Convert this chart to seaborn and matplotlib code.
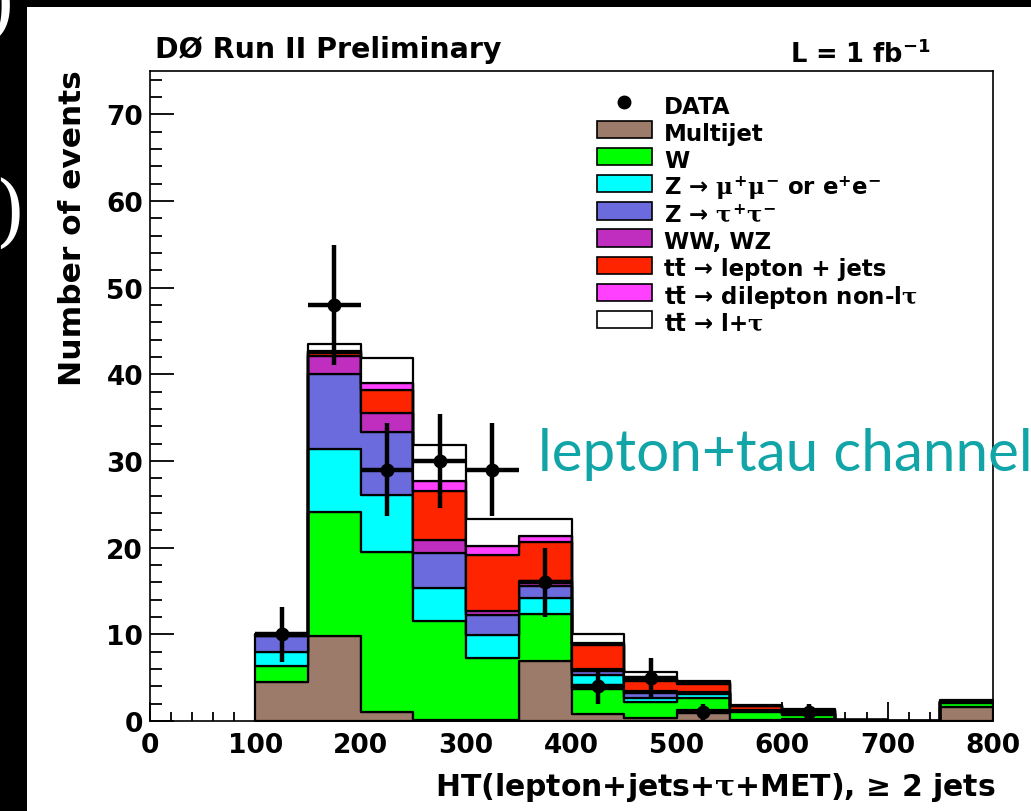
import numpy as np
import pandas as pd
import matplotlib
matplotlib.use("Agg")
import matplotlib.pyplot as plt
from matplotlib.patches import Rectangle
from matplotlib.lines import Line2D
from matplotlib.ticker import MultipleLocator
import seaborn as sns

# ---- HT histogram contents (events per 50 GeV bin) ----
bin_edges = np.arange(100, 801, 50)
bin_centers = bin_edges[:-1] + 25

multijet = [4.45, 9.8, 1.0, 0.1, 0.1, 6.9, 0.8, 0.4, 1.3, 0.1, 0.2, 0.03, 0.0, 1.6]
w_jets   = [1.85, 14.3, 18.55, 11.4, 7.2, 5.5, 2.9, 1.8, 1.4, 0.95, 0.5, 0.03, 0.0, 0.5]
z_ll     = [1.65, 7.3, 6.55, 3.9, 2.6, 1.8, 1.6, 0.5, 0.4, 0.15, 0.1, 0.01, 0.0, 0.05]
z_tautau = [1.85, 8.6, 7.3, 4.0, 2.3, 1.35, 0.5, 0.5, 0.1, 0.05, 0.05, 0.01, 0.0, 0.05]
ww_wz    = [0.05, 2.1, 2.1, 1.5, 0.5, 0.65, 0.2, 0.3, 0.1, 0.05, 0.05, 0.0, 0.0, 0.0]
tt_ljets = [0.1, 0.4, 2.7, 5.6, 6.5, 4.5, 2.8, 1.15, 1.0, 0.4, 0.3, 0.02, 0.0, 0.05]
tt_dilep = [0.02, 0.2, 0.8, 1.2, 1.0, 0.7, 0.2, 0.35, 0.1, 0.05, 0.05, 0.0, 0.0, 0.0]
tt_ltau  = [0.1, 0.8, 2.9, 4.2, 3.1, 1.9, 1.0, 0.7, 0.25, 0.15, 0.1, 0.02, 0.0, 0.15]
data_counts = [10, 48, 29, 30, 29, 16, 4, 5, 1, 0, 1, 0, 0, 0]

# stacking order, bottom first
process_names = ["Multijet", "W", "Zll", "Ztautau", "WWWZ", "tt_ljets", "tt_dilep", "tt_ltau"]
process_values = [multijet, w_jets, z_ll, z_tautau, ww_wz, tt_ljets, tt_dilep, tt_ltau]
process_colors = ["#9c7b6b", "#00ff00", "#00ffff", "#6b6bdd", "#c02ec0", "#ff2400", "#ff40ff", "#ffffff"]
TTBAR = "tt\u0304"
legend_labels = [
    "Multijet",
    "W",
    r"Z → $\mu^{+}\mu^{-}$ or e$^{+}$e$^{-}$",
    r"Z → $\tau^{+}\tau^{-}$",
    "WW, WZ",
    TTBAR + " → lepton + jets",
    TTBAR + r" → dilepton non-l$\tau$",
    TTBAR + r" → l+$\tau$",
]

W_PX, H_PX = 1031, 812


def fx(x):
    return x / W_PX


def fy(y):
    return 1 - y / H_PX


sns.set_theme(style="ticks")
plt.rcParams["font.family"] = ["DejaVu Sans"]
plt.rcParams["font.weight"] = "bold"
plt.rcParams["text.color"] = "black"
plt.rcParams["axes.labelcolor"] = "black"
plt.rcParams["xtick.color"] = "black"
plt.rcParams["ytick.color"] = "black"
plt.rcParams["mathtext.fontset"] = "custom"
plt.rcParams["mathtext.rm"] = "DejaVu Sans:bold"
plt.rcParams["mathtext.bf"] = "DejaVu Sans:bold"
plt.rcParams["mathtext.sf"] = "DejaVu Sans:bold"
plt.rcParams["mathtext.it"] = "DejaVu Serif"

fig = plt.figure(figsize=(W_PX / 100, H_PX / 100), dpi=100)
fig.patch.set_facecolor("black")
fig.patches.append(Rectangle((fx(27), 0), 1 - fx(27), fy(8), transform=fig.transFigure,
                             facecolor="white", edgecolor="none", zorder=-1))

# pieces of slide text on the dark border
fig.text(fx(16), fy(30), ")", color="white", fontsize=60, family="DejaVu Serif",
         fontweight="normal", ha="right", va="baseline")
fig.text(fx(27), fy(238), "Y)", color="white", fontsize=56, family="DejaVu Serif",
         fontweight="normal", ha="right", va="baseline")

ax = fig.add_axes([fx(150), fy(722), fx(993) - fx(150), fy(72) - fy(722)])
ax.set_facecolor("white")

long_df = pd.DataFrame({
    "HT": np.tile(bin_centers, len(process_names)),
    "events": np.concatenate([np.asarray(v, float) for v in process_values]),
    "process": np.repeat(process_names, len(bin_centers)),
})

# seaborn stacks the last hue level at the bottom
sns.histplot(
    data=long_df, x="HT", weights="events", hue="process",
    hue_order=process_names[::-1], palette=dict(zip(process_names, process_colors)),
    multiple="stack", binwidth=50, binrange=(bin_edges[0], bin_edges[-1]),
    element="step", fill=True, alpha=1,
    edgecolor="black", linewidth=1.6, legend=False, ax=ax,
)

# data points with Poisson errors
counts = np.asarray(data_counts, float)
has_data = counts > 0
ax.errorbar(bin_centers[has_data], counts[has_data], xerr=25, yerr=np.sqrt(counts[has_data]),
            fmt="o", color="black", ms=9, elinewidth=3.2, capsize=0, zorder=6)

ax.set_xlim(0, 800)
ax.set_ylim(0, 75)
ax.xaxis.set_major_locator(MultipleLocator(100))
ax.xaxis.set_minor_locator(MultipleLocator(20))
ax.yaxis.set_major_locator(MultipleLocator(10))
ax.yaxis.set_minor_locator(MultipleLocator(2))
ax.tick_params(axis="both", which="both", direction="in", top=False, right=False,
               color="black", labelcolor="black", width=1.3)
ax.tick_params(axis="y", which="major", length=17, pad=5, labelsize=19)
ax.tick_params(axis="y", which="minor", length=8.5)
ax.tick_params(axis="x", which="major", length=13.5, pad=8, labelsize=19)
ax.tick_params(axis="x", which="minor", length=6.8)
for lab in ax.get_xticklabels() + ax.get_yticklabels():
    lab.set_fontweight("bold")
for sp in ax.spines.values():
    sp.set_visible(True)
    sp.set_linewidth(1.2)
    sp.set_color("black")
ax.set_xlabel("")
ax.set_ylabel("")

# titles and axis labels
fig.text(fx(155), fy(58), "DØ Run II Preliminary", fontsize=20.5, fontweight="bold", va="baseline")
fig.text(fx(790), fy(63), r"L = 1 fb$^{-1}$", fontsize=18.5, fontweight="bold", va="baseline")
fig.text(fx(995), fy(796), r"HT(lepton+jets+$\tau$+MET), ≥ 2 jets", fontsize=21.5,
         fontweight="bold", ha="right", va="baseline")
fig.text(fx(73), fy(70), "Number of events", fontsize=22.5, fontweight="bold",
         rotation=90, ha="center", va="top")

fig.text(fx(538), fy(471), "lepton+tau channel", fontsize=42, family="Lato",
         fontweight="normal", color="#12a5a8", va="baseline")

# legend, drawn row by row
row0 = 121.5
row_step = 27.2
box_h = 17.5
fig.add_artist(Line2D([fx(624)], [fy(103)], marker="o", ms=9, color="black",
                      transform=fig.transFigure))
fig.text(fx(664), fy(114), "DATA", fontsize=16.5, fontweight="bold", va="baseline")
for i, (lab, col) in enumerate(zip(legend_labels, process_colors)):
    top = row0 + i * row_step
    fig.add_artist(Rectangle((fx(597), fy(top + box_h)), fx(652) - fx(597), box_h / H_PX,
                             transform=fig.transFigure, facecolor=col, edgecolor="black",
                             linewidth=1.2))
    fig.text(fx(664), fy(top + box_h + 1.5), lab, fontsize=16.5, fontweight="bold", va="baseline")

fig.savefig("out.png", dpi=100, facecolor=fig.get_facecolor())
